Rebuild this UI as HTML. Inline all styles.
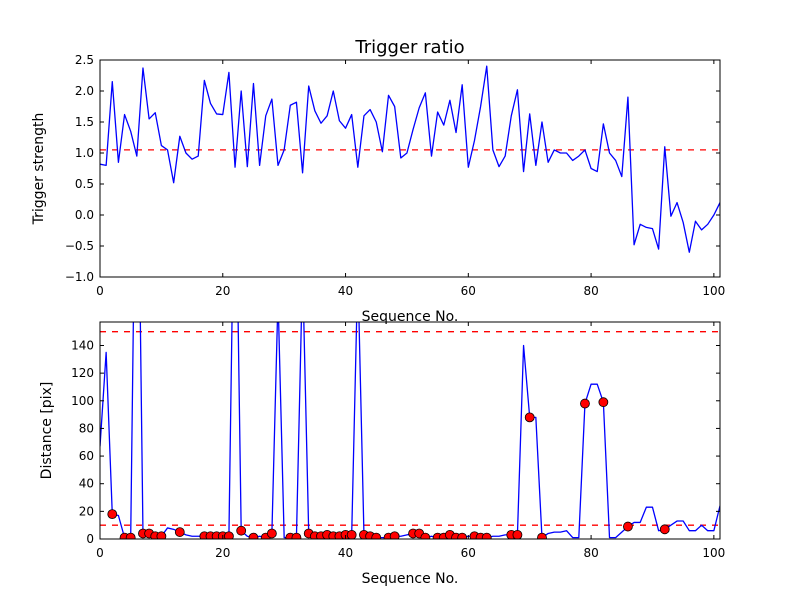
<!DOCTYPE html>
<html><head><meta charset="utf-8"><style>
body{margin:0;background:#fff;}
svg text{font-family:"DejaVu Sans","Liberation Sans",sans-serif;}
</style></head><body>
<svg id="c" width="800" height="600" xmlns="http://www.w3.org/2000/svg">
<defs>
<clipPath id="c1"><rect x="100" y="60" width="620" height="217"/></clipPath>
<clipPath id="c2"><rect x="100" y="322" width="620" height="217"/></clipPath>
</defs>
<rect width="800" height="600" fill="#fff"/>
<g id="g1"></g><g id="g2"></g>
</svg>
<script>
const ratioValues=[0.82,0.8,2.15,0.85,1.62,1.35,0.95,2.37,1.55,1.65,1.12,1.05,0.52,1.27,1.0,0.9,0.95,2.17,1.8,1.63,1.62,2.3,0.77,2.0,0.78,2.12,0.8,1.6,1.87,0.8,1.05,1.77,1.82,0.68,2.08,1.68,1.48,1.6,2.0,1.52,1.4,1.62,0.77,1.6,1.7,1.5,1.02,1.93,1.75,0.92,1.0,1.38,1.73,1.97,0.95,1.66,1.45,1.85,1.33,2.1,0.77,1.2,1.75,2.4,1.05,0.78,0.95,1.6,2.02,0.7,1.63,0.8,1.5,0.85,1.05,1.0,1.0,0.88,0.95,1.05,0.75,0.7,1.47,1.0,0.88,0.62,1.9,-0.48,-0.15,-0.2,-0.22,-0.55,1.1,-0.02,0.2,-0.12,-0.6,-0.1,-0.24,-0.15,0.0,0.2];
const ratioThreshold=1.05;
const distValues=[67,135,18,17,1,1,362,4,4,2,2,8,7,5,3,2,2,2,2,2,2,2,310,6,2,1,2,1,4,175,1,1,1,196,4,2,2,3,2,2,3,3,195,3,2,1,1,1,2,2,3,4,4,1,2,1,1,3,1,1,2,2,1,1,2,2,3,3,3,140,88,88,1,4,5,5,6,1,1,98,112,112,99,1,1,5,9,12,12,23,23,6,7,10,13,13,6,6,10,6,6,24];
const dotIdx=[2,4,5,7,8,9,10,13,17,18,19,20,21,23,25,27,28,31,32,34,35,36,37,38,39,40,41,43,44,45,47,48,51,52,53,55,56,57,58,59,61,62,63,67,68,70,72,79,82,86,92];
const distThresholds=[10,150];
const xTicks=[0,20,40,60,80,100];
const yTicks1=[-1.0,-0.5,0.0,0.5,1.0,1.5,2.0,2.5];
const yTicks2=[0,20,40,60,80,100,120,140];
const NS="http://www.w3.org/2000/svg";
function el(p,t,a){const e=document.createElementNS(NS,t);for(const k in a)e.setAttribute(k,a[k]);p.appendChild(e);return e;}
function draw(g,box,ymin,ymax,yt,fmt,clip,vals,ths,dots,ylabel,title){
  const [L,T,W,H]=box;
  const sx=v=>L+v/101*W, sy=v=>T+(ymax-v)/(ymax-ymin)*H;
  const cg=el(g,'g',{'clip-path':'url(#'+clip+')'});
  ths.forEach(t=>{const l=el(cg,'line',{x1:L,x2:L+W,y1:sy(t),y2:sy(t),stroke:'#f00','stroke-width':1.3,'stroke-dasharray':'6,6'});
    
    });
  const pl=el(cg,'polyline',{points:vals.map((v,i)=>sx(i)+','+sy(v)).join(' '),fill:'none',stroke:'#00f','stroke-width':1.3,'stroke-linejoin':'round'});
  
  
  dots.forEach(i=>{const c=el(cg,'circle',{cx:sx(i),cy:sy(vals[i]),r:4.5,fill:'#f00',stroke:'#000','stroke-width':0.8});
    
    });
  const fr=el(g,'rect',{x:L,y:T,width:W,height:H,fill:'none',stroke:'#000','stroke-width':1});
  
  
  xTicks.forEach(t=>{const x=sx(t);
    el(g,'line',{x1:x,x2:x,y1:T+H,y2:T+H-4,stroke:'#000'});el(g,'line',{x1:x,x2:x,y1:T,y2:T+4,stroke:'#000'});
    const tx=el(g,'text',{x:x,y:T+H+18,'font-size':12,'text-anchor':'middle'});tx.textContent=t;
    
    });
  yt.forEach(t=>{const y=sy(t);
    el(g,'line',{x1:L,x2:L+4,y1:y,y2:y,stroke:'#000'});el(g,'line',{x1:L+W,x2:L+W-4,y1:y,y2:y,stroke:'#000'});
    const tx=el(g,'text',{x:L-6,y:y+4,'font-size':12,'text-anchor':'end'});tx.textContent=fmt(t).replace('-','\u2212');
    
    });
  const xl=el(g,'text',{x:L+W/2,y:T+H+44,'font-size':14,'text-anchor':'middle'});xl.textContent='Sequence No.';
  
  
  const yl=el(g,'text',{x:0,y:0,'font-size':14,'text-anchor':'middle',transform:'translate('+(ylabel[1])+','+(T+H/2)+') rotate(-90)'});yl.textContent=ylabel[0];
  
  
  if(title){const tt=el(g,'text',{x:L+W/2,y:T-7,'font-size':18,'text-anchor':'middle'});tt.textContent=title;
    
    }
}
draw(document.getElementById('g1'),[100,60,620,217],-1,2.5,yTicks1,v=>v.toFixed(1),'c1',ratioValues,[ratioThreshold],[],['Trigger strength',43],'Trigger ratio');
draw(document.getElementById('g2'),[100,322,620,217],0,157,yTicks2,v=>String(v),'c2',distValues,distThresholds,dotIdx,['Distance [pix]',51],null);
</script>
</body></html>
